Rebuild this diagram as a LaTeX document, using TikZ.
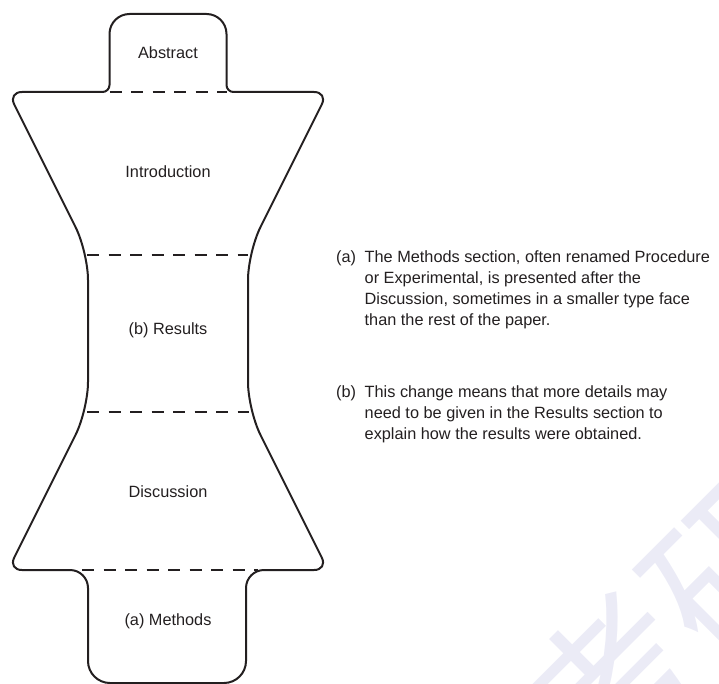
\documentclass[tikz,border=0pt]{standalone}
\usepackage{fontspec}
\setmainfont{Liberation Sans}
\newfontfamily\cjk{Noto Sans CJK SC}
\definecolor{ink}{RGB}{35,31,32}
\definecolor{wm}{RGB}{235,235,246}
\begin{document}
\begin{tikzpicture}[x=1pt,y=-1pt,
  outline/.style={draw=ink, line width=2pt, line join=round},
  sep/.style={draw=ink, line width=2pt, dash pattern=on 12pt off 9.5pt},
  lbl/.style={text=ink, font=\fontsize{16.3}{21.3}\selectfont, inner sep=0pt}]
\useasboundingbox (0,0) rectangle (719,684);
\begin{scope}
  \clip (0,0) rectangle (719,684);
  \node[text=wm, rotate=45, inner sep=0pt, font=\cjk\fontsize{170}{170}\selectfont] (wmark) at (675,625) {考研};
\end{scope}
% outline
\draw[outline] (109.5,60) [rounded corners=20pt] -- (109.5,14) -- (226.5,14)
  [rounded corners=7pt] -- (226.5,92)
  [rounded corners=14pt] -- (328,92)
  [rounded corners=28pt] -- (248,252) -- (248,410)
  [rounded corners=14pt] -- (328,570)
  [rounded corners=18pt] -- (246,570)
  [rounded corners=22pt] -- (246,683) -- (88,683)
  [rounded corners=18pt] -- (88,570)
  [rounded corners=14pt] -- (8,570)
  [rounded corners=28pt] -- (88,410) -- (88,252)
  [rounded corners=14pt] -- (8,92)
  [rounded corners=7pt] -- (109.5,92)
  [sharp corners] -- cycle;
% separators
\coordinate (s1l) at (109.5,92); \coordinate (s1r) at (226.5,92);
\coordinate (s2l) at (87,255); \coordinate (s2r) at (248,255);
\coordinate (s3l) at (87,412); \coordinate (s3r) at (249,412);
\coordinate (s4l) at (82,570); \coordinate (s4r) at (258,570);
\draw[sep] (s1l) -- (s1r);
\draw[sep] (s2l) -- (s2r);
\draw[sep] (s3l) -- (s3r);
\draw[sep] (s4l) -- (s4r);
% labels
\node[lbl] (abs) at (168,53) {Abstract};
\node[lbl] (intro) at (168,172) {Introduction};
\node[lbl] (res) at (168,330) {(b) Results};
\node[lbl] (disc) at (168,492) {Discussion};
\node[lbl] (meth) at (168,621) {(a) Methods};
% notes
\node[lbl, anchor=base west] (notea) at (336,262) {\makebox[28.5pt][l]{(a)}\parbox[t]{380pt}{\raggedright The Methods section, often renamed Procedure\\or Experimental, is presented after the\\Discussion, sometimes in a smaller type face\\than the rest of the paper.}};
\node[lbl, anchor=base west] (noteb) at (336,397) {\makebox[28.5pt][l]{(b)}\parbox[t]{380pt}{\raggedright This change means that more details may\\need to be given in the Results section to\\explain how the results were obtained.}};
\end{tikzpicture}
\end{document}
